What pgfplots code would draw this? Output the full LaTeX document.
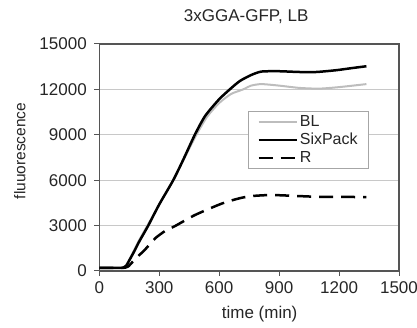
\documentclass[border=0pt]{standalone}
\usepackage{fontspec}
\setmainfont{Liberation Sans}
\usepackage{pgfplots}
\pgfplotsset{compat=1.18}
\definecolor{blgray}{HTML}{BDBDBD}
\definecolor{gridgray}{HTML}{C8C8C8}
\definecolor{framegray}{HTML}{555555}
\begin{document}
\begin{tikzpicture}
\begin{axis}[
  scale only axis,
  width=299.7pt, height=227pt,
  xmin=0, xmax=1500, ymin=0, ymax=15000,
  xtick={0,300,...,1500},
  ytick={0,3000,...,15000},
  scaled ticks=false,
  /pgf/number format/assume math mode=true,
  /pgf/number format/1000 sep={},
  tick label style={font=\fontsize{17}{19}\selectfont, text=black!85},
  yticklabel style={xshift=-4pt},
  xticklabel style={yshift=-2pt},
  ymajorgrids,
  grid style={gridgray, line width=1.2pt},
  tick align=outside,
  major tick length=5pt,
  tick style={framegray, line width=1pt},
  xtick pos=bottom, ytick pos=left,
  axis line style={framegray, line width=1.3pt},
  title={3xGGA-GFP, LB},
  title style={at={(0.49,1)}, anchor=base, yshift=16.7pt, font=\fontsize{17}{19}\selectfont, text=black!85},
  xlabel={time (min)},
  xlabel style={at={(0.535,0)}, anchor=base, yshift=-48pt, font=\fontsize{17}{19}\selectfont, text=black!85},
  ylabel={fluuorescence},
  ylabel style={at={(-0.265,0.529)}, anchor=center, font=\fontsize{15.5}{17}\selectfont, text=black!85},
  legend style={at={(0.496,0.705)}, anchor=north west, draw=gray!70, line width=0.8pt,
    font=\fontsize{16}{19}\selectfont, text=black!85, inner xsep=9pt, inner ysep=2pt, row sep=1.5pt},
  legend cell align=left,
  legend image code/.code={\draw[#1] (0pt,0pt) -- (38pt,0pt);},
]
\addplot[blgray, line width=2pt, smooth, tension=0.4] coordinates {
(0,200) (90,200) (120,230) (135,400) (150,750) (175,1400) (200,2050) (245,3100)
(300,4400) (370,6000) (420,7300) (486,9000) (540,10200) (600,11100) (660,11700)
(720,12000) (760,12250) (812,12350) (900,12250) (1000,12100) (1100,12050)
(1200,12150) (1337,12350)
};
\addlegendentry{BL}
\addplot[black, line width=2.5pt, smooth, tension=0.4] coordinates {
(0,200) (90,200) (120,220) (135,350) (150,700) (175,1300) (200,1950) (245,3000)
(300,4400) (370,6000) (420,7350) (478,9000) (530,10250) (600,11350) (653,12000)
(703,12550) (760,12950) (812,13180) (900,13200) (1000,13150) (1087,13150)
(1187,13270) (1260,13400) (1337,13530)
};
\addlegendentry{SixPack}
\addplot[black, line width=2.5pt, smooth, tension=0.4, dash pattern=on 14pt off 8pt] coordinates {
(0,200) (90,200) (130,220) (145,300) (170,650) (200,1050) (228,1400) (279,2150)
(330,2650) (379,2970) (479,3700) (612,4450) (700,4800) (762,4950) (862,5020)
(1000,4950) (1100,4900) (1200,4900) (1337,4880)
};
\addlegendentry{R}
\coordinate (O) at (rel axis cs:0,0);
\end{axis}
\pgfresetboundingbox
\path (O) ++(-99.3pt,-57pt) rectangle ++(417pt,328pt);
\end{tikzpicture}
\end{document}
